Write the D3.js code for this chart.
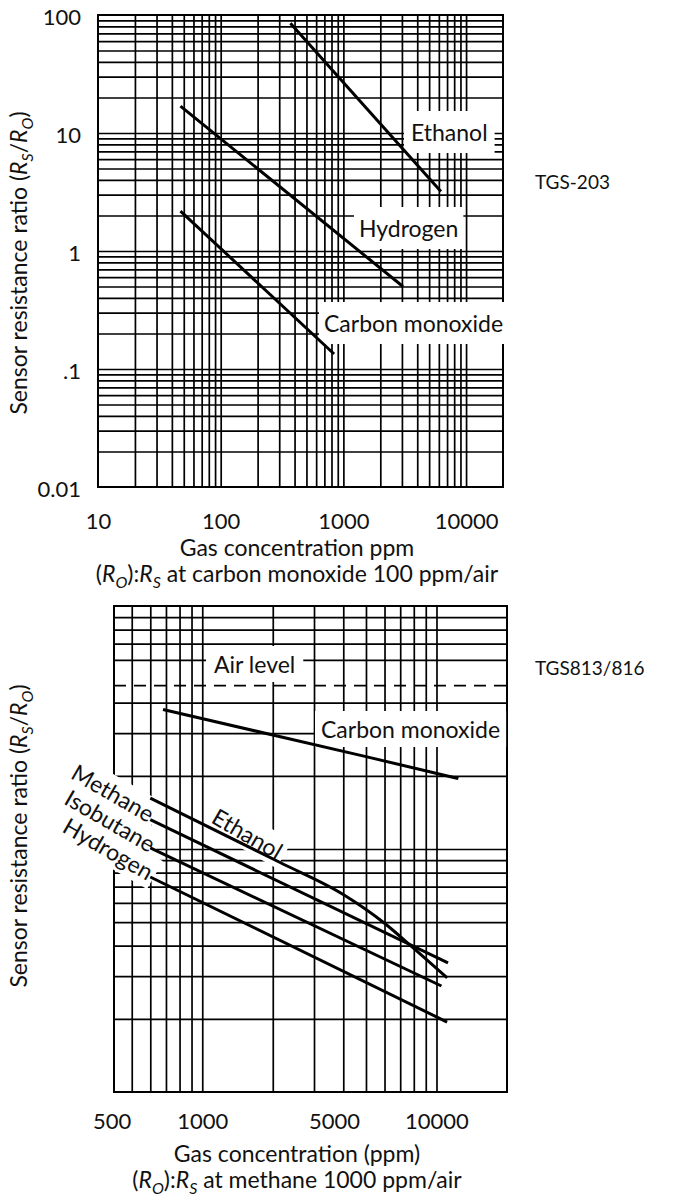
<!DOCTYPE html>
<html>
<head>
<meta charset="utf-8">
<script src="https://cdn.jsdelivr.net/npm/d3@7"></script>
<style>
body { margin: 0; background: #fff; }
svg { display: block; }
text { font-family: Lato, "Noto Sans", sans-serif; fill: #111; font-size: 23px; }
</style>
</head>
<body>
<div id="chart"></div>
<script>
var canvasWidth = 674;
var canvasHeight = 1198;

// TGS-203 (upper chart)
var topXTicks = [10, 100, 1000, 10000];
var topYTicks = [100, 10, 1, 0.1, 0.01];
var topYTickText = ["100", "10", "1", ".1", "0.01"];
var topEthanol = [[370, 85], [6240, 3.2]];
var topHydrogen = [[47, 16.9], [3060, 0.5]];
var topCO = [[47, 2.18], [840, 0.134]];

// TGS813/816 (lower chart)
var botXTicks = [500, 1000, 5000, 10000];
var botCO = [[680, 37.5], [5000, 24], [12400, 19.5]];
var botEthanol = [[600, 16.2], [2150, 8.8], [4000, 6.5], [6000, 4.95], [8000, 3.9], [11100, 2.95]];
var botMethane = [[600, 13.2], [11200, 3.4]];
var botIsobutane = [[600, 10.1], [10500, 2.73]];
var botHydrogen = [[600, 7.67], [11100, 1.94]];
var airLevel = 47;

var minors = [1, 2, 3, 4, 5, 6, 7, 8, 9];

var svg = d3.select("#chart")
    .append("svg")
    .attr("width", canvasWidth)
    .attr("height", canvasHeight);

var xTop = d3.scaleLog().domain([10, 20000]).range([98, 503]);
var yTop = d3.scaleLog().domain([0.01, 100]).range([487, 15]);
var xBot = d3.scaleLog().domain([420, 20000]).range([114, 507]);
var yBot = d3.scaleLog().domain([1, 100]).range([1092, 606]);

function logGrid(decades, lo, hi, skip) {
    var out = [];
    decades.forEach(function(d) {
        minors.forEach(function(m) {
            var v = +(d * m).toPrecision(3);
            if (v > lo && v < hi && (!skip || skip.indexOf(v) < 0)) out.push(v);
        });
    });
    return out;
}

var gridLayer = svg.append("g");
var knockLayer = svg.append("g");
var markLayer = svg.append("g");
var labelLayer = svg.append("g");

function drawGrid(x, y, xs, ys) {
    var x0 = x.range()[0], x1 = x.range()[1];
    var y0 = y.range()[1], y1 = y.range()[0];
    gridLayer.append("g")
        .attr("transform", "translate(0," + y1 + ")")
        .call(d3.axisBottom(x).tickValues(xs).tickSize(-(y1 - y0)).tickFormat(""))
        .call(function(g) { g.select(".domain").remove(); });
    gridLayer.append("g")
        .attr("transform", "translate(" + x0 + ",0)")
        .call(d3.axisLeft(y).tickValues(ys).tickSize(-(x1 - x0)).tickFormat(""))
        .call(function(g) { g.select(".domain").remove(); });
    gridLayer.append("rect")
        .attr("x", x0).attr("y", y0)
        .attr("width", x1 - x0).attr("height", y1 - y0)
        .attr("fill", "none")
        .attr("stroke", "#000")
        .attr("stroke-width", 2);
}

drawGrid(xTop, yTop,
    logGrid([10, 100, 1000, 10000], 10, 20000),
    logGrid([0.01, 0.1, 1, 10], 0.01, 100));
drawGrid(xBot, yBot,
    logGrid([100, 1000, 10000], 450, 11000),
    logGrid([1, 10], 1, 100, [50]));

gridLayer.selectAll(".tick line")
    .attr("stroke", "#000")
    .attr("stroke-width", 1.7);

// white boxes behind curve labels
function boxLabel(txt, x, y, angle, anchor, padX, padY) {
    var tr = "translate(" + x + "," + y + ") rotate(" + angle + ")";
    var t = labelLayer.append("text")
        .attr("transform", tr)
        .attr("text-anchor", anchor)
        .text(txt);
    var b = t.node().getBBox();
    knockLayer.append("rect")
        .attr("transform", tr)
        .attr("x", b.x - padX).attr("y", b.y - padY)
        .attr("width", b.width + 2 * padX)
        .attr("height", b.height + 2 * padY)
        .attr("fill", "#fff");
}

boxLabel("Ethanol", 411, 141, 0, "start", 7, 7);
boxLabel("Hydrogen", 359, 237, 0, "start", 5, 7);
boxLabel("Carbon monoxide", 324, 332, 0, "start", 5, 7);

boxLabel("Air level", 214, 673, 0, "start", 8, 4);
boxLabel("Carbon monoxide", 321, 738, 0, "start", 6, 4);
boxLabel("Ethanol", 210, 822, 30, "start", 4, 2);
boxLabel("Methane", 148, 823, 30, "end", 4, 2);
boxLabel("Isobutane", 149, 853, 30, "end", 4, 2);
boxLabel("Hydrogen", 147, 881, 30, "end", 4, 2);

// air level
markLayer.append("line")
    .attr("x1", xBot.range()[0]).attr("x2", xBot.range()[1])
    .attr("y1", yBot(airLevel)).attr("y2", yBot(airLevel))
    .attr("stroke", "#000")
    .attr("stroke-width", 1.7)
    .attr("stroke-dasharray", "12,8");

function drawCurve(data, x, y) {
    var line = d3.line()
        .curve(d3.curveMonotoneX)
        .x(function(d) { return x(d[0]); })
        .y(function(d) { return y(d[1]); });
    markLayer.append("path")
        .datum(data)
        .attr("d", line)
        .attr("fill", "none")
        .attr("stroke", "#000")
        .attr("stroke-width", 3);
}

[topEthanol, topHydrogen, topCO].forEach(function(s) { drawCurve(s, xTop, yTop); });
[botCO, botEthanol, botMethane, botIsobutane, botHydrogen].forEach(function(s) { drawCurve(s, xBot, yBot); });

// tick labels
var fmt = function(d) { return String(d); };
labelLayer.append("g")
    .attr("transform", "translate(0,510)")
    .call(d3.axisBottom(xTop).tickValues(topXTicks).tickSize(0).tickFormat(fmt))
    .call(function(g) { g.select(".domain").remove(); });
labelLayer.append("g")
    .attr("transform", "translate(84,2)")
    .call(d3.axisLeft(yTop).tickValues(topYTicks).tickSize(0)
        .tickFormat(function(d, i) { return topYTickText[i]; }))
    .call(function(g) { g.select(".domain").remove(); });

var botShift = {500: -20, 5000: -32};
labelLayer.append("g")
    .attr("transform", "translate(0,1110)")
    .call(d3.axisBottom(xBot).tickValues(botXTicks).tickSize(0).tickFormat(fmt))
    .call(function(g) { g.select(".domain").remove(); })
    .selectAll("text")
    .attr("dx", function(d) { return botShift[d] || 0; });

labelLayer.selectAll(".tick text")
    .attr("fill", "#111")
    .style("font-family", "Lato, 'Noto Sans', sans-serif")
    .style("font-size", "22px");

// rich text with italic R and subscripts
function richText(sel, parts) {
    parts.forEach(function(p) {
        var ts = sel.append("tspan").text(p[0]);
        if (p[1] === "i") ts.style("font-style", "italic");
        if (p[1] === "sub") {
            ts.style("font-style", "italic").style("font-size", "16px").attr("dy", 6);
        }
        if (p[1] === "up") ts.attr("dy", -6);
    });
    return sel;
}

function yTitle(cy) {
    var t = labelLayer.append("text")
        .attr("transform", "translate(27," + cy + ") rotate(-90)")
        .attr("text-anchor", "middle");
    richText(t, [["Sensor resistance ratio ("], ["R", "i"], ["S", "sub"], ["/", "up"], ["R", "i"], ["O", "sub"], [")", "up"]]);
}
yTitle(263);
yTitle(836);

function caption(cy, lineA, gasName) {
    labelLayer.append("text")
        .attr("x", 297).attr("y", cy)
        .attr("text-anchor", "middle")
        .text(lineA);
    var t = labelLayer.append("text")
        .attr("x", 297).attr("y", cy + 26)
        .attr("text-anchor", "middle");
    richText(t, [["("], ["R", "i"], ["O", "sub"], ["):", "up"], ["R", "i"], ["S", "sub"], [" at " + gasName + " ppm/air", "up"]]);
}
caption(556, "Gas concentration ppm", "carbon monoxide 100");
caption(1162, "Gas concentration (ppm)", "methane 1000");

labelLayer.append("text").attr("x", 535).attr("y", 189).style("font-size", "19px").text("TGS-203");
labelLayer.append("text").attr("x", 535).attr("y", 675).style("font-size", "19px").text("TGS813/816");
</script>
</body>
</html>
